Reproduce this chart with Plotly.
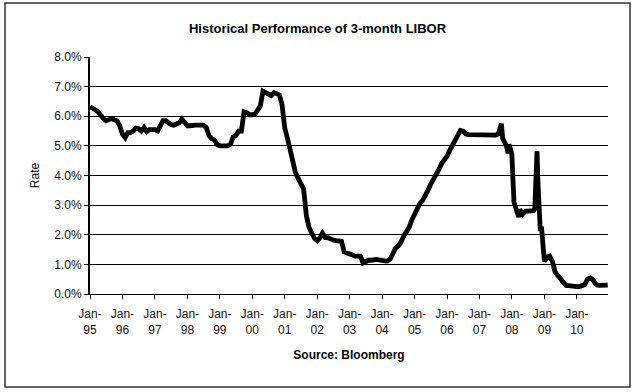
import plotly.graph_objects as go

# ---- data (3-month LIBOR, %) ----
dates = (
    [f"1995-{m:02d}-01" for m in range(1, 13)]
    + [f"1996-{m:02d}-01" for m in range(1, 13)]
    + [f"1997-{m:02d}-01" for m in range(1, 13)]
    + [f"1998-{m:02d}-01" for m in range(1, 13)]
    + [f"1999-{m:02d}-01" for m in range(1, 13)]
    + [f"2000-{m:02d}-01" for m in range(1, 13)]
    + [f"2001-{m:02d}-01" for m in range(1, 13)]
    + [f"2002-{m:02d}-01" for m in range(1, 13)]
    + [f"2003-{m:02d}-01" for m in range(1, 13)]
    + [f"2004-{m:02d}-01" for m in range(1, 13)]
    + [f"2005-{m:02d}-01" for m in range(1, 13)]
    + [f"2006-{m:02d}-01" for m in range(1, 13)]
    + ["2007-01-01", "2007-02-01", "2007-03-01", "2007-04-01", "2007-05-01",
       "2007-06-01", "2007-07-01", "2007-08-01", "2007-08-20", "2007-09-05",
       "2007-09-20", "2007-10-01", "2007-11-01", "2007-11-20", "2007-12-01",
       "2007-12-20"]
    + ["2008-01-01", "2008-01-25", "2008-02-01", "2008-03-01", "2008-03-20",
       "2008-04-01", "2008-05-01", "2008-06-01", "2008-07-01", "2008-08-01",
       "2008-09-01", "2008-09-15", "2008-09-30", "2008-10-10", "2008-10-20",
       "2008-10-31", "2008-11-15", "2008-12-01", "2008-12-15"]
    + [f"2009-{m:02d}-01" for m in range(1, 13)]
    + [f"2010-{m:02d}-01" for m in range(1, 13)]
    + ["2010-12-15"]
)

rates = (
    [6.32, 6.28, 6.22, 6.15, 6.02, 5.92, 5.85, 5.90, 5.92, 5.88, 5.85, 5.68]
    + [5.40, 5.28, 5.45, 5.45, 5.50, 5.60, 5.58, 5.50, 5.62, 5.48, 5.55, 5.55]
    + [5.55, 5.50, 5.65, 5.85, 5.85, 5.78, 5.72, 5.70, 5.75, 5.78, 5.90, 5.78]
    + [5.68, 5.68, 5.70, 5.70, 5.70, 5.70, 5.70, 5.62, 5.35, 5.25, 5.20, 5.05]
    + [5.00, 5.00, 5.00, 5.00, 5.05, 5.30, 5.35, 5.50, 5.50, 6.15, 6.12, 6.05]
    + [6.05, 6.08, 6.20, 6.35, 6.85, 6.80, 6.75, 6.70, 6.80, 6.78, 6.72, 6.40]
    + [5.60, 5.25, 4.90, 4.50, 4.10, 3.90, 3.72, 3.55, 2.65, 2.25, 2.05, 1.88]
    + [1.80, 1.90, 2.05, 1.90, 1.90, 1.85, 1.82, 1.80, 1.80, 1.78, 1.42, 1.40]
    + [1.35, 1.32, 1.28, 1.30, 1.28, 1.05, 1.10, 1.14, 1.14, 1.16, 1.17, 1.15]
    + [1.12, 1.12, 1.11, 1.18, 1.35, 1.55, 1.62, 1.75, 1.95, 2.10, 2.25, 2.50]
    + [2.70, 2.88, 3.05, 3.15, 3.30, 3.50, 3.70, 3.85, 4.00, 4.20, 4.40, 4.50]
    + [4.65, 4.85, 5.00, 5.15, 5.30, 5.52, 5.50, 5.40, 5.38, 5.38, 5.37, 5.36]
    + [5.36, 5.35, 5.35, 5.36, 5.36, 5.36, 5.36, 5.40, 5.55, 5.75,
       5.25, 5.20, 5.00, 4.75, 5.05, 4.85]
    + [4.70, 3.10, 3.05, 2.75, 2.60,
       2.85, 2.70, 2.80, 2.80, 2.81,
       2.81, 2.88, 4.05, 4.82, 3.80,
       3.00, 2.20, 2.20, 1.45]
    + [1.10, 1.25, 1.28, 1.10, 0.75, 0.62, 0.50, 0.38, 0.29, 0.28, 0.26, 0.25]
    + [0.25, 0.25, 0.28, 0.32, 0.50, 0.54, 0.48, 0.33, 0.29, 0.29, 0.29, 0.30]
    + [0.30]
)

tick_dates = [f"{y}-01-01" for y in range(1995, 2011)]
tick_labels = [f"Jan-<br>{str(y)[2:]}" for y in range(1995, 2011)]
y_ticks = [0, 1, 2, 3, 4, 5, 6, 7, 8]
y_labels = [f"{v:.1f}%" for v in y_ticks]

FONT = "Liberation Sans, Arial, sans-serif"

fig = go.Figure()
fig.add_trace(go.Scatter(
    x=dates, y=rates, mode="lines",
    line=dict(color="black", width=4.8),
    showlegend=False, hoverinfo="skip",
))

fig.update_layout(
    width=635, height=392,
    margin=dict(l=90, r=27, t=57, b=98),
    paper_bgcolor="white", plot_bgcolor="white",
    font=dict(family=FONT, size=12, color="black"),
    title=dict(text="<b>Historical Performance of 3-month LIBOR</b>",
               x=0.5, xref="container", y=1 - 28 / 392, yref="container",
               yanchor="middle", font=dict(size=13, color="black")),
    xaxis=dict(
        type="date", range=["1995-01-01", "2010-12-18"],
        tickvals=tick_dates, ticktext=tick_labels,
        showgrid=False, showline=True, linecolor="black", linewidth=1,
        ticks="outside", ticklen=4, tickcolor="black",
        ticklabelstandoff=5,
        tickfont=dict(size=12, color="#111"),
        title=dict(text="<b>Source: Bloomberg</b>", standoff=14,
                   font=dict(size=12, color="black")),
    ),
    yaxis=dict(
        range=[0, 8], tickvals=y_ticks, ticktext=y_labels,
        showgrid=True, gridcolor="black", gridwidth=1,
        showline=True, linecolor="black", linewidth=2,
        ticks="outside", ticklen=4, tickcolor="black",
        tickfont=dict(size=12, color="#111"),
        zeroline=False,
        title=dict(text="Rate", standoff=12, font=dict(size=12, color="black")),
    ),
    shapes=[
        dict(type="rect", xref="paper", yref="paper",
             x0=(5 - 90) / 518, x1=(630 - 90) / 518,
             y0=(294 - 387) / 237, y1=(294 - 3) / 237,
             line=dict(color="#333", width=1.5), fillcolor="rgba(0,0,0,0)",
             layer="below"),
    ],
)

fig.write_html("out.html", config={"displayModeBar": False},
               post_script="document.body.style.margin='0px';")
